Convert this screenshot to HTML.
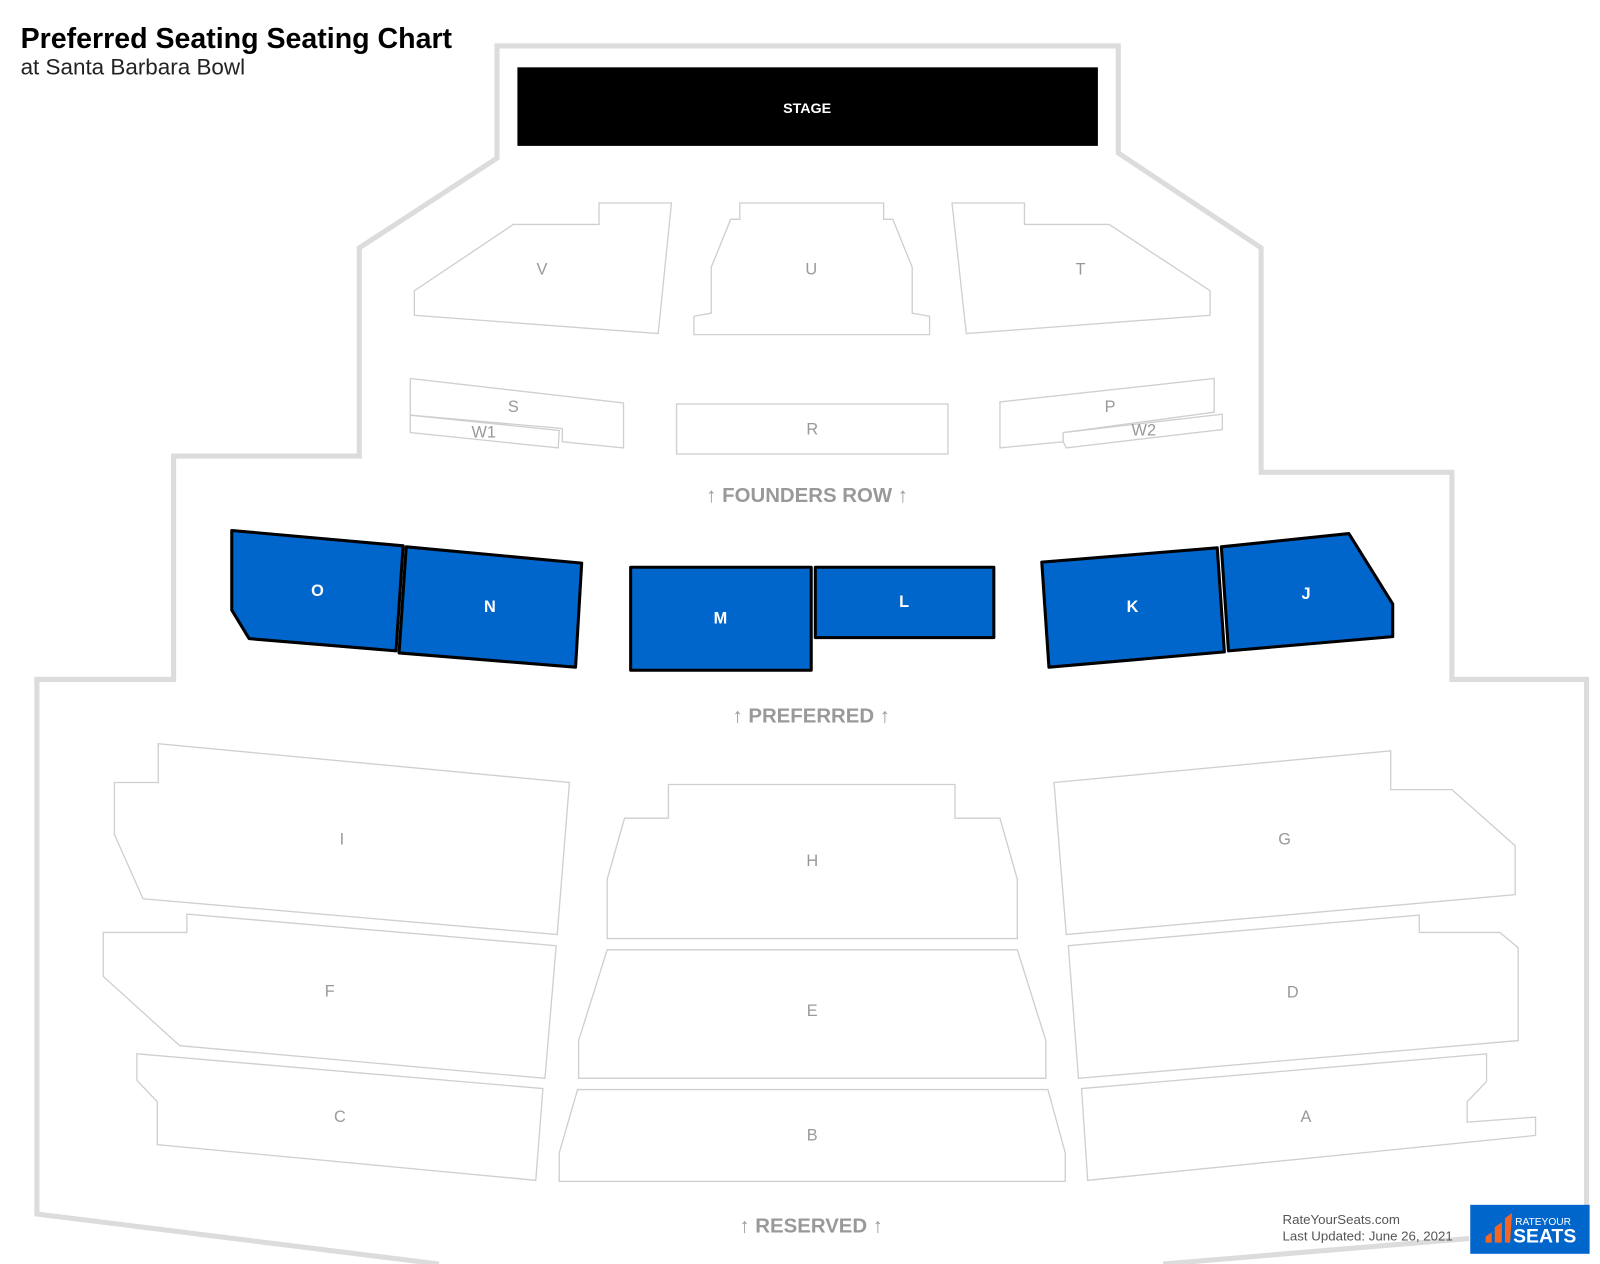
<!DOCTYPE html>
<html><head><meta charset="utf-8"><style>
html,body{margin:0;padding:0;background:#fff;}
svg{display:block;}
text{font-family:"Liberation Sans",sans-serif;}
</style></head><body>
<svg width="1600" height="1264" viewBox="0 0 1568 1239" xmlns="http://www.w3.org/2000/svg">
<rect width="1568" height="1239" fill="#fff"/>
<g fill="none" stroke="#dcdcdc" stroke-width="5" stroke-linejoin="miter">
<polyline points="430,1239 36,1190 36,666 170,666 170,447 352,447 352,243 487,155 487,45 1096,45 1096,150 1236,243 1236,463 1423,463 1423,666 1555,666 1555,1200"/>
<polyline points="1140,1239 1440,1214"/>
</g>
<rect x="507" y="66" width="569" height="77" fill="#000"/>
<text x="791" y="111" fill="#fff" font-size="14" font-weight="bold" text-anchor="middle">STAGE</text>
<g fill="#fff" stroke="#cfcfcf" stroke-width="1.3">
<polygon points="406,285 503,220 587,220 587,199 658,199 645,327 406,309"/>
<polygon points="680,328 680,310 697,307 697,262 716,215 725,215 725,199 866,199 866,215 875,215 894,262 894,307 911,310 911,328"/>
<polygon points="933,199 1004,199 1004,220 1087,220 1186,285 1186,309 947,327"/>
<polygon points="402,371 611,395 611,439 551,433 551,420 402,407"/>
<polygon points="402,407 548,422 547,439 402,424"/>
<rect x="663" y="396" width="266" height="49"/>
<polygon points="980,394 1190,371 1190,404 1042,424 1042,433 980,439"/>
<polygon points="1042,424 1198,406 1198,421 1045,439 1042,433"/>
<polygon points="112,767 155,767 155,729 558,767 546,916 140,881 112,818"/>
<polygon points="595,920 595,862 612,802 655,802 655,769 936,769 936,802 980,802 997,862 997,920"/>
<polygon points="1033,767 1363,736 1363,774 1423,774 1485,829 1485,877 1045,916"/>
<polygon points="101,914 183,914 183,896 545,927 534,1057 176,1025 101,957"/>
<polygon points="567,1057 567,1020 595,931 997,931 1025,1020 1025,1057"/>
<polygon points="1047,927 1391,897 1391,914 1470,914 1488,929 1488,1020 1057,1057"/>
<polygon points="134,1033 532,1067 525,1157 154,1122 154,1080 134,1059"/>
<polygon points="548,1158 548,1130 566,1068 1027,1068 1044,1130 1044,1158"/>
<polygon points="1060,1067 1457,1033 1457,1060 1438,1080 1438,1100 1505,1095 1505,1113 1066,1157"/>
</g>
<g fill="#0066cc" stroke="#000" stroke-width="3" stroke-linejoin="round">
<polygon points="227,520 395,535 388,638 244,626 227,598"/>
<polygon points="398,536 570,552 564,654 391,640"/>
<rect x="618" y="556" width="177" height="101"/>
<rect x="799" y="556" width="175" height="69"/>
<polygon points="1021,551 1193,537 1200,639 1028,654"/>
<polygon points="1197,536 1322,523 1365,592 1365,624 1204,638"/>
</g>
<g fill="#fff" font-size="16" font-weight="bold" text-anchor="middle">
<text x="311" y="584">O</text><text x="480" y="600">N</text><text x="706" y="611">M</text>
<text x="886" y="595">L</text><text x="1110" y="600">K</text><text x="1280" y="587">J</text>
</g>
<g fill="#999" font-size="16" text-anchor="middle">
<text x="531" y="269">V</text><text x="795" y="269">U</text><text x="1059" y="269">T</text>
<text x="503" y="404">S</text><text x="474" y="429">W1</text><text x="796" y="426">R</text>
<text x="1088" y="404">P</text><text x="1121" y="427">W2</text>
<text x="335" y="828">I</text><text x="796" y="849">H</text><text x="1259" y="828">G</text>
<text x="323" y="977">F</text><text x="796" y="996">E</text><text x="1267" y="978">D</text>
<text x="333" y="1100">C</text><text x="796" y="1118">B</text><text x="1280" y="1100">A</text>
</g>
<g fill="#999" font-size="20" font-weight="bold" text-anchor="middle">
<text x="791" y="492">↑ FOUNDERS ROW ↑</text>
<text x="795" y="708">↑ PREFERRED ↑</text>
<text x="795" y="1208">↑ RESERVED ↑</text>
</g>
<text x="20" y="47" font-size="28" font-weight="bold" fill="#000">Preferred Seating Seating Chart</text>
<text x="20" y="73" font-size="22" fill="#222">at Santa Barbara Bowl</text>
<text x="1257" y="1200" font-size="13" fill="#555">RateYourSeats.com</text>
<text x="1257" y="1216" font-size="13" fill="#555">Last Updated: June 26, 2021</text>
<rect x="1441" y="1181" width="117" height="48" fill="#0066cc"/>
<polygon points="1456,1212 1462,1208 1462,1218 1456,1218" fill="#f26522"/>
<polygon points="1465,1203 1472,1198 1472,1218 1465,1218" fill="#f26522"/>
<polygon points="1475,1194 1482,1189 1480,1218 1475,1218" fill="#f26522"/>
<text x="1485" y="1201" font-size="10" fill="#fff">RATEYOUR</text>
<text x="1483" y="1218" font-size="19" font-weight="bold" fill="#fff">SEATS</text>
</svg>
</body></html>
